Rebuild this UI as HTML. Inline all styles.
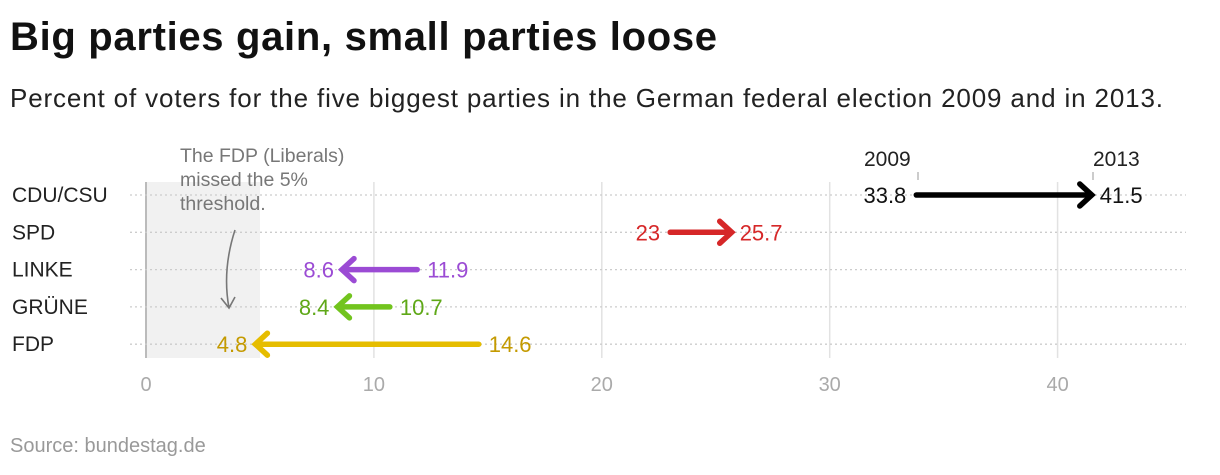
<!DOCTYPE html>
<html><head><meta charset="utf-8"><style>
body{margin:0;background:#fff;font-family:"Liberation Sans",sans-serif;}
svg text{font-family:"Liberation Sans",sans-serif;}
</style></head><body>
<svg width="1220" height="470" xmlns="http://www.w3.org/2000/svg">
<text x="10" y="50" font-size="40" font-weight="bold" fill="#111" textLength="707">Big parties gain, small parties loose</text>
<text x="10" y="107" font-size="26" fill="#222" textLength="1153">Percent of voters for the five biggest parties in the German federal election 2009 and in 2013.</text>
<rect x="146" y="182" width="114" height="176" fill="#f1f1f1"/>
<g id="grid"></g>
<g id="marks"></g>
<text x="180" y="162" font-size="19.5" fill="#777"><tspan x="180">The FDP (Liberals)</tspan><tspan x="180" dy="24">missed the 5%</tspan><tspan x="180" dy="24">threshold.</tspan></text>
<path d="M235 230 Q222 270 229 308 M221 298 L229 308 L235 297" stroke="#777" stroke-width="1.6" fill="none"/>
<text x="864" y="166" font-size="21" fill="#222">2009</text>
<line x1="918" y1="172" x2="918" y2="180" stroke="#999"/>
<text x="1093" y="166" font-size="21" fill="#222">2013</text>
<line x1="1093" y1="172" x2="1093" y2="180" stroke="#999"/>
<text x="10" y="452" font-size="20" fill="#999">Source: bundestag.de</text>
</svg>
<script>
const parties=["CDU/CSU","SPD","LINKE","GRÜNE","FDP"];
const v2009=[33.8,23,11.9,10.7,14.6];
const v2013=[41.5,25.7,8.6,8.4,4.8];
const colors=["#000000","#d62728","#9b4bd4","#72c41e","#e6bd00"];
const labelColors=["#111111","#d62728","#9b4bd4","#5fa818","#c49a00"];
const ticks=[0,10,20,30,40];
const NS="http://www.w3.org/2000/svg";
const x=v=>146+v*22.79;
const y=i=>195+i*37.3;
function el(tag,attrs,parent){const e=document.createElementNS(NS,tag);for(const k in attrs)e.setAttribute(k,attrs[k]);parent.appendChild(e);return e;}
const grid=document.getElementById('grid'),marks=document.getElementById('marks');
ticks.forEach(t=>{
 const l=el('line',{x1:x(t),x2:x(t),y1:182,y2:358,stroke:t===0?'#bbb':'#e2e2e2','stroke-width':t===0?2:1.5},grid);
 
 
 const tx=el('text',{x:x(t),y:391,'font-size':20,fill:'#aaa','text-anchor':'middle'},grid);
 tx.textContent=t;
 
 
});
parties.forEach((p,i)=>{
 const gl=el('line',{x1:130,x2:1186,y1:y(i),y2:y(i),stroke:'#ccc','stroke-width':1.3,'stroke-dasharray':'2 3'},grid);
 
 
 const lb=el('text',{x:12,y:y(i)+7,'font-size':21,fill:'#222'},marks);
 lb.textContent=p;
 
 
 const a=x(v2009[i]),b=x(v2013[i]),d=b>a?1:-1,yy=y(i);
 const ln=el('line',{x1:a,x2:b-d*3,y1:yy,y2:yy,stroke:colors[i],'stroke-width':5.5,'stroke-linecap':'round'},marks);
 
 
 const hd=el('path',{d:`M${b-d*12} ${yy-11} L${b} ${yy} L${b-d*12} ${yy+11}`,stroke:colors[i],'stroke-width':5.5,fill:'none','stroke-linecap':'round','stroke-linejoin':'miter'},marks);
 
 
 const s=el('text',{x:a-d*10,y:yy+8,'font-size':22,fill:labelColors[i],'text-anchor':d>0?'end':'start'},marks);
 s.textContent=v2009[i];
 
 
 const e=el('text',{x:b+d*8,y:yy+8,'font-size':22,fill:labelColors[i],'text-anchor':d>0?'start':'end'},marks);
 e.textContent=v2013[i];
 
 
});
</script>
</body></html>
